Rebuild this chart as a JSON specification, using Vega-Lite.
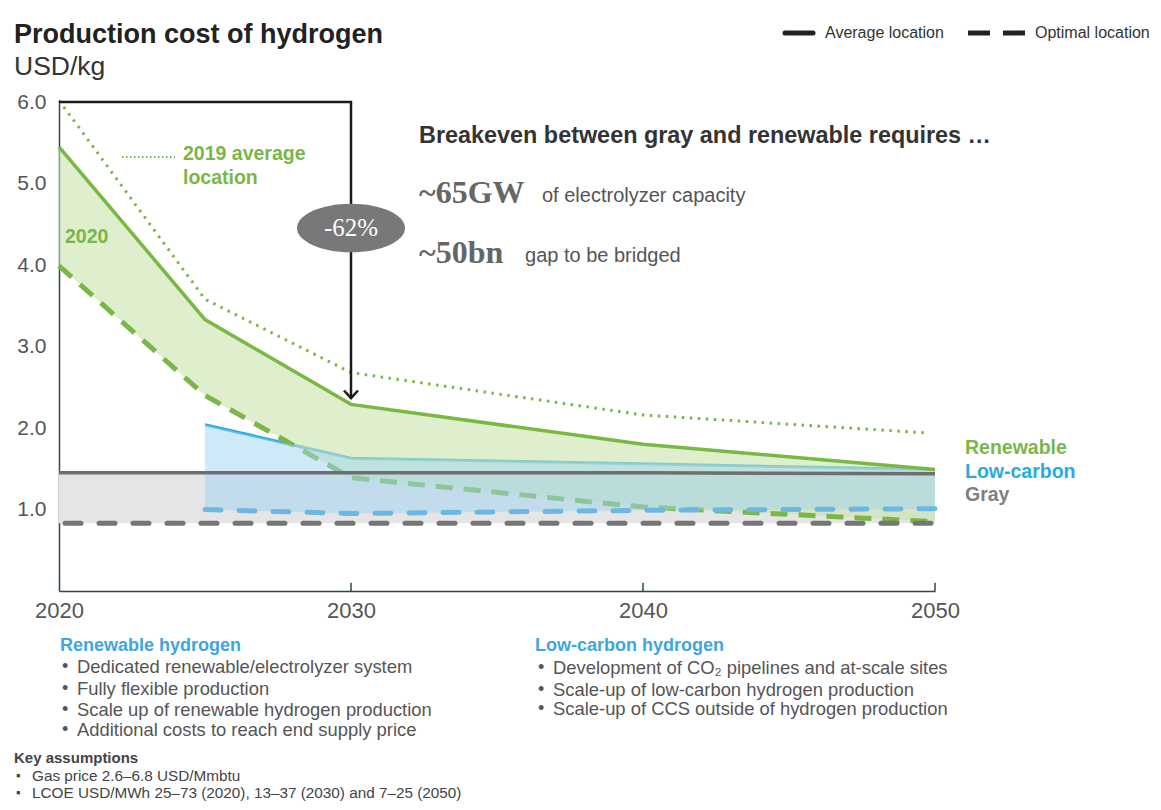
{
  "$schema": "https://vega.github.io/schema/vega-lite/v6.json",
  "width": 876,
  "height": 489,
  "autosize": {"type": "none"},
  "padding": {"left": 59, "top": 102, "right": 226, "bottom": 219},
  "background": "white",
  "config": {
    "view": {"stroke": null},
    "font": "Liberation Sans",
    "axis": {"grid": false, "ticks": false, "labelFont": "Liberation Sans", "labelColor": "#555555", "domainColor": "#2c4752", "domainWidth": 1.5, "labelFlush": false}
  },
  "datasets": {
    "renewable": [
      {"year": 2020, "avg": 5.45, "opt": 3.99},
      {"year": 2025, "avg": 3.33, "opt": 2.40},
      {"year": 2030, "avg": 2.29, "opt": 1.39},
      {"year": 2040, "avg": 1.80, "opt": 1.03},
      {"year": 2050, "avg": 1.49, "opt": 0.85}
    ],
    "lowcarbon": [
      {"year": 2025, "avg": 2.04, "opt": 1.00},
      {"year": 2030, "avg": 1.63, "opt": 0.95},
      {"year": 2040, "avg": 1.56, "opt": 0.99},
      {"year": 2050, "avg": 1.49, "opt": 1.01}
    ],
    "gray": [
      {"year": 2020, "avg": 1.45, "opt": 0.83},
      {"year": 2030, "avg": 1.45, "opt": 0.83},
      {"year": 2040, "avg": 1.45, "opt": 0.83},
      {"year": 2050, "avg": 1.44, "opt": 0.83}
    ],
    "avg2019": [
      {"year": 2020, "value": 6.02},
      {"year": 2025, "value": 3.58},
      {"year": 2030, "value": 2.68},
      {"year": 2040, "value": 2.16},
      {"year": 2049.7, "value": 1.94}
    ],
    "bracket": [
      {"year": 2020, "value": 6.0, "o": 1},
      {"year": 2030, "value": 6.0, "o": 2},
      {"year": 2030, "value": 2.36, "o": 3}
    ]
  },
  "encoding": {
    "x": {
      "field": "year",
      "type": "quantitative",
      "title": null,
      "scale": {"domain": [2020, 2050], "nice": false, "zero": false},
      "axis": {
        "title": null,
        "values": [2020, 2030, 2040, 2050],
        "format": "d",
        "labelFontSize": 22,
        "labelPadding": 9
      }
    }
  },
  "layer": [
    {
      "data": {"name": "gray"},
      "mark": {"type": "area", "color": "#e5e5e5"},
      "encoding": {
        "y": {
          "field": "avg",
          "type": "quantitative",
          "title": null,
          "scale": {"domain": [0, 6], "nice": false},
          "axis": {
            "title": null,
            "values": [1, 2, 3, 4, 5, 6],
            "format": ".1f",
            "labelFontSize": 21,
            "labelPadding": 13
          }
        },
        "y2": {"field": "opt"}
      }
    },
    {
      "data": {"values": [{"value": 1}, {"value": 2}, {"value": 3}, {"value": 4}, {"value": 5}, {"value": 6}]},
      "mark": {"type": "rule", "color": "#2c4752", "strokeWidth": 1.5},
      "encoding": {
        "x": {"datum": 2020},
        "x2": {"datum": 2020.3},
        "y": {"field": "value", "type": "quantitative", "title": null, "scale": {"domain": [0, 6]}}
      }
    },
    {
      "data": {"values": [{"year": 2030}, {"year": 2040}, {"year": 2050}]},
      "mark": {"type": "rule", "color": "#2c4752", "strokeWidth": 1.5},
      "encoding": {
        "y": {"datum": 0, "type": "quantitative", "title": null, "scale": {"domain": [0, 6]}},
        "y2": {"datum": 0.1}
      }
    },
    {
      "data": {"name": "lowcarbon"},
      "mark": {"type": "line", "color": "#29aae2", "strokeWidth": 3},
      "encoding": {"y": {"field": "avg", "type": "quantitative", "title": null, "scale": {"domain": [0, 6]}}}
    },
    {
      "data": {"name": "renewable"},
      "mark": {"type": "area", "color": "#c9e4ae", "opacity": 0.6},
      "encoding": {
        "y": {"field": "avg", "type": "quantitative", "title": null, "scale": {"domain": [0, 6]}},
        "y2": {"field": "opt"}
      }
    },
    {
      "data": {"name": "renewable"},
      "mark": {"type": "line", "color": "#7ab648", "strokeWidth": 5, "strokeDash": [17, 11]},
      "encoding": {"y": {"field": "opt", "type": "quantitative", "title": null, "scale": {"domain": [0, 6]}}}
    },
    {
      "data": {"name": "lowcarbon"},
      "mark": {"type": "area", "color": "#9fd3f2", "opacity": 0.5},
      "encoding": {
        "y": {"field": "avg", "type": "quantitative", "title": null, "scale": {"domain": [0, 6]}},
        "y2": {"field": "opt"}
      }
    },
    {
      "data": {"name": "lowcarbon"},
      "mark": {"type": "line", "color": "#6cb8e2", "strokeWidth": 5, "strokeDash": [16, 18], "strokeCap": "round"},
      "encoding": {"y": {"field": "opt", "type": "quantitative", "title": null, "scale": {"domain": [0, 6]}}}
    },
    {
      "data": {"name": "gray"},
      "mark": {"type": "line", "color": "#6e6e6e", "strokeWidth": 3.5},
      "encoding": {"y": {"field": "avg", "type": "quantitative", "title": null, "scale": {"domain": [0, 6]}}}
    },
    {
      "data": {"name": "gray"},
      "mark": {"type": "line", "color": "#767676", "strokeWidth": 5, "strokeDash": [16, 18], "strokeCap": "round", "strokeDashOffset": -6},
      "encoding": {"y": {"field": "opt", "type": "quantitative", "title": null, "scale": {"domain": [0, 6]}}}
    },
    {
      "data": {"name": "renewable"},
      "mark": {"type": "line", "color": "#78b843", "strokeWidth": 3.5},
      "encoding": {"y": {"field": "avg", "type": "quantitative", "title": null, "scale": {"domain": [0, 6]}}}
    },
    {
      "data": {"name": "avg2019"},
      "mark": {"type": "line", "color": "#7ab648", "strokeWidth": 3, "strokeDash": [2.5, 5.5]},
      "encoding": {"y": {"field": "value", "type": "quantitative", "title": null, "scale": {"domain": [0, 6]}}}
    },
    {
      "data": {"name": "bracket"},
      "mark": {"type": "line", "color": "#1a1a1a", "strokeWidth": 2.5},
      "encoding": {
        "y": {"field": "value", "type": "quantitative", "title": null, "scale": {"domain": [0, 6]}},
        "order": {"field": "o"}
      }
    },
    {
      "data": {"values": [{"year": 2030, "value": 2.40}]},
      "mark": {"type": "point", "shape": "M -1 -0.7 L 0 0.4 L 1 -0.7", "size": 196, "filled": false, "stroke": "#1a1a1a", "strokeWidth": 2.5, "opacity": 1},
      "encoding": {"y": {"field": "value", "type": "quantitative", "title": null, "scale": {"domain": [0, 6]}}}
    },
    {
      "data": {"values": [{"year": 2030, "value": 4.454, "text": "-62%"}]},
      "layer": [
        {
          "mark": {"type": "point", "shape": "M -1 0 A 1 0.45 0 1 1 1 0 A 1 0.45 0 1 1 -1 0 Z", "size": 11664, "filled": true, "color": "#787878", "opacity": 1}
        },
        {
          "mark": {"type": "text", "font": "Liberation Serif", "fontSize": 25, "color": "white", "align": "center", "baseline": "middle"},
          "encoding": {"text": {"field": "text"}}
        }
      ],
      "encoding": {"y": {"field": "value", "type": "quantitative", "title": null, "scale": {"domain": [0, 6]}}}
    },
    {
      "data": {"values": [{"year": 2044.863, "value": 6.847}, {"year": 2045.822, "value": 6.847}]},
      "mark": {"type": "line", "color": "#222222", "strokeWidth": 5, "strokeCap": "round"},
      "encoding": {"y": {"field": "value", "type": "quantitative", "title": null, "scale": {"domain": [0, 6]}}}
    },
    {
      "data": {"values": [{"year": 2051.13, "value": 6.847}, {"year": 2053.151, "value": 6.847}]},
      "mark": {"type": "line", "color": "#222222", "strokeWidth": 5, "strokeDash": [22, 13]},
      "encoding": {"y": {"field": "value", "type": "quantitative", "title": null, "scale": {"domain": [0, 6]}}}
    },
    {
      "data": {"values": [{"year": 2022.158, "value": 5.325}, {"year": 2023.973, "value": 5.325}]},
      "mark": {"type": "line", "color": "#7ab648", "strokeWidth": 2, "strokeDash": [1.5, 2.5]},
      "encoding": {"y": {"field": "value", "type": "quantitative", "title": null, "scale": {"domain": [0, 6]}}}
    },
    {
      "data": {"values": [
        {"year": 2046.233, "value": 6.847, "text": "Average location"},
        {"year": 2053.425, "value": 6.847, "text": "Optimal location"}
      ]},
      "mark": {"type": "text", "align": "left", "baseline": "middle", "fontSize": 16, "color": "#333333"},
      "encoding": {"y": {"field": "value", "type": "quantitative", "title": null, "scale": {"domain": [0, 6]}}, "text": {"field": "text"}}
    },
    {
      "data": {"values": [{"year": 2018.459, "value": 6.822, "text": "Production cost of hydrogen"}]},
      "mark": {"type": "text", "align": "left", "baseline": "middle", "fontSize": 27, "fontWeight": "bold", "color": "#222222"},
      "encoding": {"y": {"field": "value", "type": "quantitative", "title": null, "scale": {"domain": [0, 6]}}, "text": {"field": "text"}}
    },
    {
      "data": {"values": [{"year": 2018.459, "value": 6.429, "text": "USD/kg"}]},
      "mark": {"type": "text", "align": "left", "baseline": "middle", "fontSize": 26.5, "color": "#333333"},
      "encoding": {"y": {"field": "value", "type": "quantitative", "title": null, "scale": {"domain": [0, 6]}}, "text": {"field": "text"}}
    },
    {
      "data": {"values": [
        {"year": 2024.247, "value": 5.362, "text": "2019 average"},
        {"year": 2024.247, "value": 5.067, "text": "location"},
        {"year": 2020.205, "value": 4.344, "text": "2020"},
        {"year": 2051.027, "value": 1.755, "text": "Renewable"}
      ]},
      "mark": {"type": "text", "align": "left", "baseline": "middle", "fontSize": 19.5, "fontWeight": "bold", "color": "#7ab648"},
      "encoding": {"y": {"field": "value", "type": "quantitative", "title": null, "scale": {"domain": [0, 6]}}, "text": {"field": "text"}}
    },
    {
      "data": {"values": [{"year": 2051.027, "value": 1.46, "text": "Low-carbon"}]},
      "mark": {"type": "text", "align": "left", "baseline": "middle", "fontSize": 19.5, "fontWeight": "bold", "color": "#29aae2"},
      "encoding": {"y": {"field": "value", "type": "quantitative", "title": null, "scale": {"domain": [0, 6]}}, "text": {"field": "text"}}
    },
    {
      "data": {"values": [{"year": 2051.027, "value": 1.178, "text": "Gray"}]},
      "mark": {"type": "text", "align": "left", "baseline": "middle", "fontSize": 19.5, "fontWeight": "bold", "color": "#7f7f7f"},
      "encoding": {"y": {"field": "value", "type": "quantitative", "title": null, "scale": {"domain": [0, 6]}}, "text": {"field": "text"}}
    },
    {
      "data": {"values": [{"year": 2032.329, "value": 5.583, "text": "Breakeven between gray and renewable requires …"}]},
      "mark": {"type": "text", "align": "left", "baseline": "middle", "fontSize": 23.4, "fontWeight": "bold", "color": "#333333"},
      "encoding": {"y": {"field": "value", "type": "quantitative", "title": null, "scale": {"domain": [0, 6]}}, "text": {"field": "text"}}
    },
    {
      "data": {"values": [
        {"year": 2032.329, "value": 4.883, "text": "~65GW"},
        {"year": 2032.329, "value": 4.147, "text": "~50bn"}
      ]},
      "mark": {"type": "text", "align": "left", "baseline": "middle", "font": "Liberation Serif", "fontSize": 32, "fontWeight": "bold", "color": "#666666"},
      "encoding": {"y": {"field": "value", "type": "quantitative", "title": null, "scale": {"domain": [0, 6]}}, "text": {"field": "text"}}
    },
    {
      "data": {"values": [
        {"year": 2036.541, "value": 4.847, "text": "of electrolyzer capacity"},
        {"year": 2035.959, "value": 4.11, "text": "gap to be bridged"}
      ]},
      "mark": {"type": "text", "align": "left", "baseline": "middle", "fontSize": 20, "color": "#555555"},
      "encoding": {"y": {"field": "value", "type": "quantitative", "title": null, "scale": {"domain": [0, 6]}}, "text": {"field": "text"}}
    },
    {
      "data": {"values": [
        {"year": 2020.034, "value": -0.675, "text": "Renewable hydrogen"},
        {"year": 2036.301, "value": -0.675, "text": "Low-carbon hydrogen"}
      ]},
      "mark": {"type": "text", "align": "left", "baseline": "middle", "fontSize": 18, "fontWeight": "bold", "color": "#3ea6e0"},
      "encoding": {"y": {"field": "value", "type": "quantitative", "title": null, "scale": {"domain": [0, 6]}}, "text": {"field": "text"}}
    },
    {
      "data": {"values": [
        {"year": 2020.103, "value": -0.933}, {"year": 2020.103, "value": -1.202},
        {"year": 2020.103, "value": -1.46}, {"year": 2020.103, "value": -1.706},
        {"year": 2036.404, "value": -0.945}, {"year": 2036.404, "value": -1.215},
        {"year": 2036.404, "value": -1.448}
      ]},
      "mark": {"type": "text", "align": "left", "baseline": "middle", "fontSize": 18, "color": "#555555", "text": "•"},
      "encoding": {"y": {"field": "value", "type": "quantitative", "title": null, "scale": {"domain": [0, 6]}}}
    },
    {
      "data": {"values": [
        {"year": 2020.616, "value": -0.933, "text": "Dedicated renewable/electrolyzer system"},
        {"year": 2020.616, "value": -1.202, "text": "Fully flexible production"},
        {"year": 2020.616, "value": -1.46, "text": "Scale up of renewable hydrogen production"},
        {"year": 2020.616, "value": -1.706, "text": "Additional costs to reach end supply price"},
        {"year": 2036.918, "value": -0.945, "text": "Development of CO₂ pipelines and at-scale sites"},
        {"year": 2036.918, "value": -1.215, "text": "Scale-up of low-carbon hydrogen production"},
        {"year": 2036.918, "value": -1.448, "text": "Scale-up of CCS outside of hydrogen production"}
      ]},
      "mark": {"type": "text", "align": "left", "baseline": "middle", "fontSize": 18.4, "color": "#555555"},
      "encoding": {"y": {"field": "value", "type": "quantitative", "title": null, "scale": {"domain": [0, 6]}}, "text": {"field": "text"}}
    },
    {
      "data": {"values": [{"year": 2018.459, "value": -2.049, "text": "Key assumptions"}]},
      "mark": {"type": "text", "align": "left", "baseline": "middle", "fontSize": 15, "fontWeight": "bold", "color": "#444444"},
      "encoding": {"y": {"field": "value", "type": "quantitative", "title": null, "scale": {"domain": [0, 6]}}, "text": {"field": "text"}}
    },
    {
      "data": {"values": [{"year": 2018.527, "value": -2.27}, {"year": 2018.527, "value": -2.479}]},
      "mark": {"type": "text", "align": "left", "baseline": "middle", "fontSize": 13, "color": "#444444", "text": "▪"},
      "encoding": {"y": {"field": "value", "type": "quantitative", "title": null, "scale": {"domain": [0, 6]}}}
    },
    {
      "data": {"values": [
        {"year": 2019.075, "value": -2.27, "text": "Gas price 2.6–6.8 USD/Mmbtu"},
        {"year": 2019.075, "value": -2.479, "text": "LCOE USD/MWh 25–73 (2020), 13–37 (2030) and 7–25 (2050)"}
      ]},
      "mark": {"type": "text", "align": "left", "baseline": "middle", "fontSize": 15.3, "color": "#444444"},
      "encoding": {"y": {"field": "value", "type": "quantitative", "title": null, "scale": {"domain": [0, 6]}}, "text": {"field": "text"}}
    }
  ]
}
